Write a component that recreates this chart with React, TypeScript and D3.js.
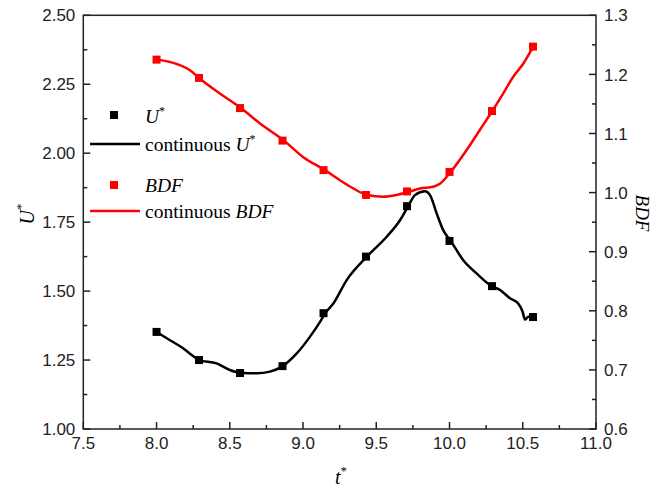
import * as d3 from "d3";

// sampled times for the marker points
const tSamples = [8.0, 8.29, 8.57, 8.86, 9.14, 9.43, 9.71, 10.0, 10.29, 10.57];
const uValues = [1.352, 1.25, 1.203, 1.228, 1.42, 1.625, 1.808, 1.682, 1.518, 1.406];
const bdfValues = [1.225, 1.194, 1.143, 1.088, 1.038, 0.996, 1.002, 1.035, 1.138, 1.247];

// continuous U* curve
const uContT = [8.0, 8.092, 8.183, 8.24, 8.29, 8.41, 8.5, 8.574, 8.684, 8.774, 8.861, 8.957, 9.047, 9.117, 9.15, 9.207, 9.298, 9.434, 9.571, 9.662, 9.718, 9.764, 9.832, 9.867, 9.912, 9.957, 10.008, 10.094, 10.185, 10.288, 10.345, 10.413, 10.469, 10.499, 10.515, 10.538, 10.56];
const uContV = [1.352, 1.322, 1.292, 1.268, 1.25, 1.238, 1.214, 1.204, 1.202, 1.208, 1.228, 1.274, 1.334, 1.389, 1.419, 1.455, 1.54, 1.624, 1.697, 1.757, 1.808, 1.848, 1.862, 1.848, 1.782, 1.721, 1.682, 1.612, 1.564, 1.518, 1.504, 1.474, 1.455, 1.425, 1.397, 1.407, 1.407];

// continuous BDF curve
const bdfContT = [8.0, 8.092, 8.228, 8.29, 8.43, 8.576, 8.706, 8.865, 9.002, 9.15, 9.252, 9.343, 9.439, 9.548, 9.639, 9.718, 9.798, 9.889, 9.935, 10.008, 10.117, 10.207, 10.292, 10.367, 10.435, 10.503, 10.57];
const bdfContV = [1.225, 1.221, 1.207, 1.194, 1.168, 1.143, 1.117, 1.089, 1.06, 1.038, 1.021, 1.007, 0.996, 0.993, 0.996, 1.001, 1.007, 1.01, 1.015, 1.035, 1.072, 1.106, 1.138, 1.168, 1.196, 1.218, 1.246];

const xTicks = [7.5, 8.0, 8.5, 9.0, 9.5, 10.0, 10.5, 11.0];
const uTicks = [1.0, 1.25, 1.5, 1.75, 2.0, 2.25, 2.5];
const bdfTicks = [0.6, 0.7, 0.8, 0.9, 1.0, 1.1, 1.2, 1.3];

const W = 653;
const H = 490;
const left = 83.3;
const right = 596;
const top = 15.3;
const bottom = 429;

const sans = "'Liberation Sans', Arial, sans-serif";
const serif = "'Liberation Serif', 'Times New Roman', serif";

export default function App() {
  const x = d3.scaleLinear().domain([7.5, 11]).range([left, right]);
  const yU = d3.scaleLinear().domain([1, 2.5]).range([bottom, top]);
  const yB = d3.scaleLinear().domain([0.6, 1.3]).range([bottom, top]);

  const uLine = d3
    .line<number>()
    .x((_, i) => x(uContT[i]))
    .y((d) => yU(d))
    .curve(d3.curveMonotoneX);
  const bdfLine = d3
    .line<number>()
    .x((_, i) => x(bdfContT[i]))
    .y((d) => yB(d))
    .curve(d3.curveMonotoneX);

  const xMinor = d3.range(7.75, 11, 0.5);
  const uMinor = d3.range(1.125, 2.5, 0.25);
  const bdfMinor = d3.range(0.65, 1.3, 0.1);

  const axisColor = "#222";
  const ms = 8;

  return (
    <div style={{ position: "fixed", left: 0, top: 0 }}>
      <svg width={W} height={H} style={{ display: "block", background: "#fff" }}>
        {/* frame */}
        <rect x={left} y={top} width={right - left} height={bottom - top} fill="none" stroke={axisColor} strokeWidth={1.5} />

        {/* bottom axis ticks */}
        {xTicks.map((t) => (
          <g key={"xt" + t}>
            <line x1={x(t)} x2={x(t)} y1={bottom} y2={bottom - 7} stroke={axisColor} strokeWidth={1.5} />
            <text x={x(t)} y={bottom + 20} textAnchor="middle" fontFamily={sans} fontSize={17} fill="#222">
              {t.toFixed(1)}
            </text>
          </g>
        ))}
        {xMinor.map((t) => (
          <line key={"xm" + t} x1={x(t)} x2={x(t)} y1={bottom} y2={bottom - 4} stroke={axisColor} strokeWidth={1.5} />
        ))}

        {/* left axis */}
        {uTicks.map((t) => (
          <g key={"ut" + t}>
            <line x1={left} x2={left + 7} y1={yU(t)} y2={yU(t)} stroke={axisColor} strokeWidth={1.5} />
            <text x={left - 8} y={yU(t)} dy="0.36em" textAnchor="end" fontFamily={sans} fontSize={17} fill="#222">
              {t.toFixed(2)}
            </text>
          </g>
        ))}
        {uMinor.map((t) => (
          <line key={"um" + t} x1={left} x2={left + 4} y1={yU(t)} y2={yU(t)} stroke={axisColor} strokeWidth={1.5} />
        ))}

        {/* right axis */}
        {bdfTicks.map((t) => (
          <g key={"bt" + t}>
            <line x1={right} x2={right - 7} y1={yB(t)} y2={yB(t)} stroke={axisColor} strokeWidth={1.5} />
            <text x={right + 8} y={yB(t)} dy="0.36em" textAnchor="start" fontFamily={sans} fontSize={17} fill="#222">
              {t.toFixed(1)}
            </text>
          </g>
        ))}
        {bdfMinor.map((t) => (
          <line key={"bm" + t} x1={right} x2={right - 4} y1={yB(t)} y2={yB(t)} stroke={axisColor} strokeWidth={1.5} />
        ))}

        {/* axis titles */}
        <text x={341} y={484} fontFamily={serif} fontSize={20} fontStyle="italic" textAnchor="middle">
          t<tspan fontStyle="normal" fontSize={13} dy={-9}>*</tspan>
        </text>
        <text transform={`translate(34,214) rotate(-90)`} fontFamily={serif} fontSize={20} textAnchor="middle">
          <tspan fontStyle="italic">U</tspan>
          <tspan fontSize={13} dy={-9}>*</tspan>
        </text>
        <text transform={`translate(636,213) rotate(90)`} fontFamily={serif} fontSize={19} fontStyle="italic" textAnchor="middle">
          BDF
        </text>

        {/* curves */}
        <path d={bdfLine(bdfContV) ?? ""} fill="none" stroke="#ff0000" strokeWidth={2.5} strokeLinejoin="round" />
        <path d={uLine(uContV) ?? ""} fill="none" stroke="#000" strokeWidth={2.5} strokeLinejoin="round" />

        {/* markers */}
        {tSamples.map((t, i) => (
          <rect key={"bs" + t} x={x(t) - ms / 2} y={yB(bdfValues[i]) - ms / 2} width={ms} height={ms} fill="#ff0000" />
        ))}
        {tSamples.map((t, i) => (
          <rect key={"us" + t} x={x(t) - ms / 2} y={yU(uValues[i]) - ms / 2} width={ms} height={ms} fill="#000" />
        ))}

        {/* legend */}
        <g fontFamily={serif} fontSize={19.5}>
          <rect x={114 - ms / 2} y={115 - ms / 2} width={ms} height={ms} fill="#000" />
          <text x={145} y={123}>
            <tspan fontStyle="italic">U</tspan>
            <tspan fontSize={12} dy={-8}>*</tspan>
          </text>
          <line x1={90} x2={140} y1={144} y2={144} stroke="#000" strokeWidth={2.5} />
          <text x={145} y={151}>
            continuous <tspan fontStyle="italic">U</tspan>
            <tspan fontSize={12} dy={-8}>*</tspan>
          </text>
          <rect x={114 - ms / 2} y={185 - ms / 2} width={ms} height={ms} fill="#ff0000" />
          <text x={145} y={192} fontStyle="italic">BDF</text>
          <line x1={90} x2={140} y1={211} y2={211} stroke="#ff0000" strokeWidth={2.5} />
          <text x={145} y={218}>
            continuous <tspan fontStyle="italic">BDF</tspan>
          </text>
        </g>
      </svg>
    </div>
  );
}
